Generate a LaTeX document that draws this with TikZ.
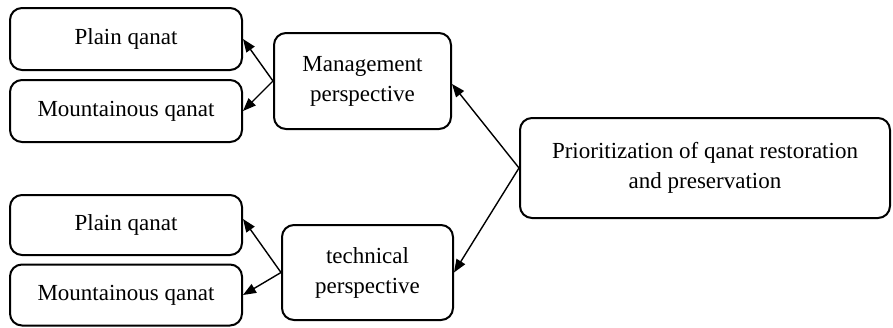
\documentclass[tikz,border=0pt]{standalone}
\usepackage{fontspec}
\setmainfont{Liberation Serif}
\usetikzlibrary{arrows.meta}
\begin{document}
\begin{tikzpicture}[x=1pt,y=-1pt,
  box/.style={draw,line width=2pt,rounded corners=12pt,inner sep=0pt,align=center,
    font=\fontsize{23}{30}\selectfont},
  link/.style={line width=1.4pt,-{Triangle[length=13pt,width=10pt]}}]
\useasboundingbox (0,0) rectangle (893,327);
\node[box,minimum width=232pt,minimum height=62pt] (pq1) at (126,39) {Plain qanat};
\node[box,minimum width=232pt,minimum height=62pt] (mq1) at (126,111) {Mountainous qanat};
\node[box,minimum width=177pt,minimum height=96pt] (mp) at (362.5,81) {Management\\perspective};
\node[box,minimum width=232pt,minimum height=60pt] (pq2) at (126,225) {Plain qanat};
\node[box,minimum width=232pt,minimum height=61pt] (mq2) at (126,295) {Mountainous qanat};
\node[box,minimum width=171pt,minimum height=95pt] (tp) at (367.5,272.5) {technical\\perspective};
\node[box,minimum width=370pt,minimum height=100pt] (pr) at (705,168) {Prioritization of qanat restoration\\and preservation};
\draw[link] (mp.west) -- (pq1.east);
\draw[link] (mp.west) -- (mq1.east);
\draw[link] (tp.west) -- ([yshift=6pt]pq2.east);
\draw[link] (tp.west) -- (mq2.east);
\draw[link] (pr.west) -- ([yshift=-3pt]mp.east);
\draw[link] (pr.west) -- (tp.east);
\end{tikzpicture}
\end{document}
